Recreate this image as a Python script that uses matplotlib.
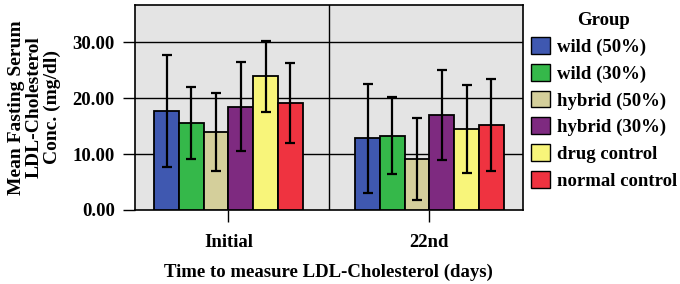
import numpy as np
import matplotlib.pyplot as plt
from matplotlib.patches import Patch

# data
times = ['Initial', '22nd']
groups = ['wild (50%)', 'wild (30%)', 'hybrid (50%)', 'hybrid (30%)', 'drug control', 'normal control']
means_initial = [17.7, 15.6, 13.9, 18.5, 23.9, 19.2]
means_22nd = [12.8, 13.3, 9.1, 17.0, 14.5, 15.2]
err_initial = [10.0, 6.5, 7.0, 8.0, 6.3, 7.2]
err_22nd = [9.8, 6.9, 7.4, 8.1, 7.9, 8.2]
yticks = [0, 10, 20, 30]

colors = ['#3f58b0', '#35b84a', '#d4cf9b', '#7e2a80', '#f8f57a', '#ef3340']

plt.rcParams['font.family'] = ['Liberation Serif', 'DejaVu Serif']
plt.rcParams['font.weight'] = 'bold'
fs = 13.5

fig = plt.figure(figsize=(6.8, 2.84), dpi=100)
ax = fig.add_axes([0.1985, 0.2606, 0.5702, 0.7218])
ax.set_facecolor('#e4e4e4')

means = np.array([means_initial, means_22nd])
errs = np.array([err_initial, err_22nd])
x = np.arange(len(times))
width = 0.123
for i in range(len(groups)):
    pos = x + (i - 2.5) * width
    ax.bar(pos, means[:, i], width, color=colors[i], edgecolor='black', linewidth=1.3, zorder=3)
    ax.errorbar(pos, means[:, i], yerr=errs[:, i], fmt='none', ecolor='black',
                elinewidth=1.6, capsize=3.5, capthick=1.6, zorder=4)

ax.set_xlim(-0.465, 1.464)
ax.set_ylim(0, 36.7)
for y in yticks[1:]:
    ax.axhline(y, color='black', linewidth=1, zorder=1)
ax.axvline(0.5, color='black', linewidth=1, zorder=1)

ax.set_yticks(yticks)
ax.set_yticklabels(['%.2f' % v for v in yticks], fontsize=fs, fontweight='bold')
ax.set_xticks(x)
ax.set_xticklabels(times, fontsize=fs, fontweight='bold')
ax.tick_params(axis='both', length=8.5, width=1, color='black', pad=6)
ax.tick_params(axis='x', pad=9)
for s in ax.spines.values():
    s.set_linewidth(1.2)

ax.set_ylabel('Mean Fasting Serum\nLDL-Cholesterol\nConc. (mg/dl)', fontsize=14,
              fontweight='bold', linespacing=1.1, labelpad=8)
ax.set_xlabel('Time to measure LDL-Cholesterol (days)', fontsize=fs, fontweight='bold', labelpad=9)

handles = [Patch(facecolor=c, edgecolor='black', linewidth=1) for c in colors]
leg = fig.legend(handles, groups, title='Group', loc='upper left', bbox_to_anchor=(0.775, 0.97),
                 frameon=False, prop={'size': fs, 'weight': 'bold'},
                 title_fontproperties={'size': fs, 'weight': 'bold'},
                 handlelength=1.0, handleheight=1.0, handletextpad=0.4, labelspacing=0.42,
                 borderaxespad=0, borderpad=0.2)

fig.savefig('out.png', dpi=100)
